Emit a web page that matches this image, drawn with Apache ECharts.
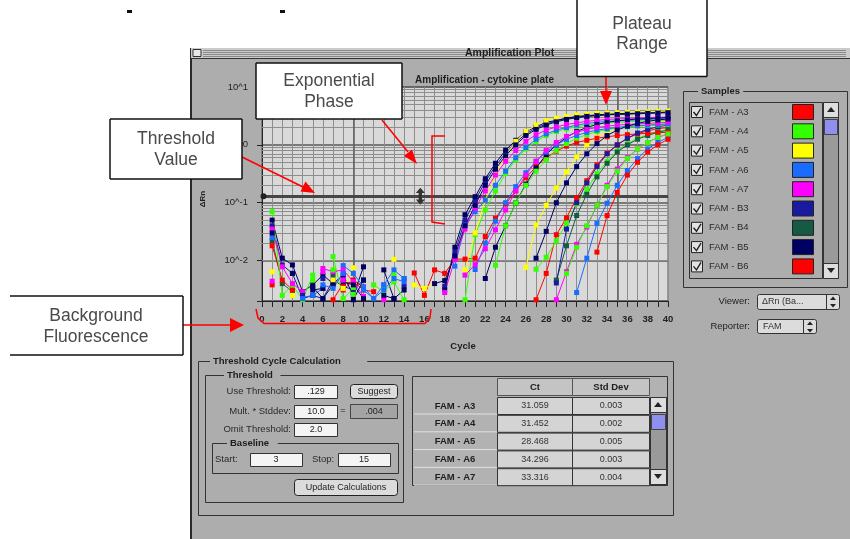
<!DOCTYPE html>
<html>
<head>
<meta charset="utf-8">
<title>Amplification Plot</title>
<script src="https://cdn.jsdelivr.net/npm/echarts@6/dist/echarts.min.js"></script>
<style>
html, body { margin: 0; padding: 0; background: #fff; }
#wrap { position: relative; width: 850px; height: 539px; overflow: hidden; }
.window { position: absolute; left: 190px; top: 48px; width: 660px; height: 491px; background: #adadad; border-left: 2px solid #2a2a2a; border-top: 1px solid #2a2a2a; }
#chart { position: absolute; left: 0; top: 0; width: 850px; height: 539px; }
</style>
</head>
<body>
<div id="wrap">
	<div class="window"></div>
	<div id="chart"></div>
</div>
<script>
const _ = null

// ΔRn per cycle (index = cycle 0..40), null = no point drawn
const fluorA3 = [_,
	0.0038, _, _, _, _, _, _, 0.0031, 0.0046, 0.0035,
	_, _, _, _, _, _, _, _, _, _,
	_, _, _, _, _, _, 0.0021, 0.006, 0.028, 0.055,
	0.12, 0.24, 0.45, 0.72, 1.0, 1.3, 1.55, 1.75, 1.9, 2.0]
const fluorA4 = [_,
	_, _, _, _, _, _, _, _, 0.0043, _,
	_, 0.0033, _, _, _, _, _, _, _, _,
	_, _, _, _, _, _, 0.0071, 0.0114, 0.022, 0.044,
	0.095, 0.17, 0.32, 0.52, 0.78, 1.05, 1.3, 1.5, 1.7, 1.85]
const fluorA5 = [_,
	_, _, _, _, _, _, 0.0036, _, _, _,
	_, _, _, _, _, _, _, _, _, _,
	_, _, _, _, _, 0.0076, 0.041, 0.09, 0.18, 0.34,
	0.62, 1.0, 1.35, 1.65, 1.9, 2.1, 2.25, 2.4, 2.5, 2.6]
const fluorA6 = [_,
	_, _, _, _, 0.0025, _, _, _, _, _,
	_, 0.0038, _, 0.0049, _, _, _, _, _, _,
	_, _, _, _, _, _, _, _, _, _,
	0.0028, 0.011, 0.044, 0.098, 0.2, 0.36, 0.58, 0.85, 1.1, 1.35]
const fluorA7 = [_,
	0.0044, _, _, _, _, _, _, 0.0049, _, 0.0022,
	_, _, _, _, _, _, _, _, _, _,
	_, _, _, _, _, _, _, _, 0.0021, 0.0064,
	0.019, 0.038, 0.09, 0.2, 0.38, 0.6, 0.85, 1.1, 1.35, 1.55]
const fluorB3 = [_,
	0.04, 0.0084, 0.006, 0.0022, 0.0025, 0.0022, 0.0046, 0.0036, 0.0031, 0.0046,
	_, _, _, 0.0036, _, _, _, 0.0036, 0.014, 0.05,
	0.11, 0.23, 0.43, 0.72, 1.1, 1.55, 1.95, 2.3, 2.6, 2.85,
	3.0, 3.15, 3.25, 3.35, 3.4, 3.45, 3.5, 3.55, 3.6, 3.65]
const fluorB4 = [_,
	0.022, 0.004, 0.0029, _, _, _, 0.0056, _, _, _,
	_, _, _, _, _, _, _, _, _, _,
	_, _, _, _, _, _, _, _, 0.0046, 0.018,
	0.06, 0.14, 0.28, 0.48, 0.75, 1.0, 1.25, 1.45, 1.65, 1.8]
const fluorB5 = [_,
	0.05, 0.011, 0.0084, 0.0029, 0.0038, 0.0056, 0.004, 0.0056, 0.0025, 0.0078,
	_, 0.0069, 0.0022, 0.0031, _, _, _, 0.0031, 0.017, 0.062,
	0.127, 0.26, 0.48, 0.81, 1.2, 1.7, 2.05, 2.45, 2.65, 2.9,
	3.1, 3.2, 3.3, 3.4, 3.45, 3.5, 3.6, 3.65, 3.7, 3.75]
const fluorB6 = [_,
	0.018, 0.0046, 0.0031, _, _, _, 0.0021, 0.004, 0.0043, 0.0031,
	0.0029, _, _, _, 0.0061, 0.0025, 0.0069, 0.006, 0.0106, 0.0106,
	0.011, 0.026, 0.054, 0.095, 0.16, 0.27, 0.42, 0.6, 0.78, 0.95,
	1.1, 1.2, 1.3, 1.38, 1.45, 1.5, 1.55, 1.58, 1.62, 1.65]
const fluorB7 = [_,
	0.07, 0.0025, 0.0038, 0.0021, 0.0056, _, 0.0117, 0.0022, 0.0033, _,
	0.0038, 0.0029, 0.0043, 0.0021, _, _, _, _, _, 0.0021,
	0.028, 0.075, 0.16, 0.32, 0.55, 0.85, 1.15, 1.45, 1.7, 1.9,
	2.05, 2.2, 2.3, 2.4, 2.45, 2.5, 2.55, 2.6, 2.6, 2.65]
const fluorC3 = [_,
	0.0064, _, 0.0025, _, _, _, 0.0046, 0.0033, 0.0075, _,
	_, _, 0.0105, _, 0.0038, 0.0033, 0.004, _, _, 0.0069,
	0.03, 0.11, 0.3, 0.65, 1.15, 1.7, 2.2, 2.6, 2.9, 3.1,
	3.3, 3.4, 3.5, 3.55, 3.6, 3.65, 3.7, 3.75, 3.8, 3.85]
const fluorC4 = [_,
	0.025, _, _, 0.0023, 0.0025, 0.0033, _, 0.0082, 0.006, 0.0035,
	0.0022, 0.0038, 0.0069, 0.0049, _, _, _, _, 0.008, 0.04,
	0.07, 0.11, 0.2, 0.35, 0.6, 0.9, 1.25, 1.55, 1.8, 2.0,
	2.2, 2.35, 2.45, 2.55, 2.6, 2.65, 2.7, 2.75, 2.8, 2.8]
const fluorC5 = [_,
	0.035, 0.0078, 0.004, 0.0029, _, 0.0073, 0.0064, 0.0069, 0.0043, 0.0024,
	_, 0.0021, _, _, _, _, _, 0.0028, 0.0105, 0.035,
	0.08, 0.16, 0.3, 0.52, 0.8, 1.15, 1.5, 1.8, 2.05, 2.25,
	2.4, 2.55, 2.65, 2.75, 2.8, 2.85, 2.9, 2.95, 3.0, 3.0]
const fluorC6 = [_,
	_, _, _, 0.0025, _, 0.0049, _, _, 0.0028, _,
	_, _, _, _, _, _, _, _, _, _,
	_, _, _, _, _, _, _, _, 0.0041, 0.035,
	0.1, 0.22, 0.42, 0.7, 1.0, 1.3, 1.6, 1.85, 2.05, 2.2]
const fluorC7 = [_,
	0.03, _, _, _, 0.0031, 0.0033, _, 0.0043, 0.0038, 0.0022,
	_, _, _, _, _, _, 0.004, 0.0045, 0.012, 0.04,
	0.09, 0.2, 0.38, 0.65, 1.0, 1.45, 1.85, 2.2, 2.5, 2.75,
	2.95, 3.1, 3.2, 3.3, 3.35, 3.4, 3.45, 3.5, 3.55, 3.6]
const fluorD3 = [_,
	_, _, 0.006, _, 0.0035, 0.0022, 0.0038, _, 0.0021, 0.0046,
	_, 0.0025, 0.0022, _, _, _, _, _, _, _,
	_, 0.0049, 0.017, 0.04, 0.1, 0.21, 0.4, 0.68, 1.0, 1.35,
	1.7, 2.0, 2.25, 2.45, 2.6, 2.7, 2.8, 2.85, 2.9, 2.95]
const fluorD4 = [_,
	_, _, _, _, _, _, _, _, _, _,
	_, _, _, _, _, _, _, _, _, _,
	_, _, _, _, _, _, _, _, _, _,
	_, _, 0.014, 0.06, 0.15, 0.3, 0.5, 0.75, 1.0, 1.25]
const fluorD5 = [_,
	_, _, _, _, 0.0046, _, 0.0069, _, 0.0026, _,
	_, _, 0.0056, _, _, _, _, _, _, _,
	_, _, 0.0083, 0.04, 0.1, 0.2, 0.35, 0.55, 0.8, 1.05,
	1.3, 1.5, 1.7, 1.85, 1.95, 2.05, 2.1, 2.15, 2.2, 2.25]
const fluorD6 = [_,
	_, _, _, 0.0022, _, 0.0038, 0.0033, 0.006, _, 0.0031,
	0.0022, 0.0031, 0.0049, 0.0043, _, _, _, _, _, _,
	0.007, 0.02, 0.048, 0.1, 0.19, 0.33, 0.52, 0.75, 1.0, 1.25,
	1.45, 1.65, 1.8, 1.9, 2.0, 2.1, 2.15, 2.2, 2.25, 2.3]
const fluorD7 = [_,
	_, _, _, _, _, 0.0064, _, 0.0046, _, _,
	_, _, _, _, _, _, _, _, _, 0.0056,
	0.0085, 0.016, 0.034, 0.075, 0.16, 0.3, 0.52, 0.8, 1.1, 1.4,
	1.65, 1.85, 2.0, 2.1, 2.2, 2.25, 2.3, 2.35, 2.4, 2.45]
const fluorE3 = [_,
	_, _, _, _, _, _, _, _, _, _,
	_, _, _, _, _, _, _, _, _, _,
	_, _, _, _, _, _, _, _, _, 0.006,
	0.017, 0.04, 0.09, 0.19, 0.35, 0.58, 0.85, 1.1, 1.35, 1.55]
const fluorE4 = [_,
	_, _, _, _, _, _, _, _, _, _,
	_, _, _, _, _, _, _, _, _, _,
	_, _, _, _, _, _, 0.011, 0.032, 0.1, 0.22,
	0.42, 0.7, 1.05, 1.45, 1.8, 2.1, 2.35, 2.55, 2.7, 2.8]

const sampleNames = ['FAM - A3', 'FAM - A4', 'FAM - A5', 'FAM - A6', 'FAM - A7', 'FAM - B3', 'FAM - B4', 'FAM - B5', 'FAM - B6',
	'FAM - B7', 'FAM - C3', 'FAM - C4', 'FAM - C5', 'FAM - C6', 'FAM - C7', 'FAM - D3', 'FAM - D4', 'FAM - D5', 'FAM - D6', 'FAM - D7', 'FAM - E3', 'FAM - E4']
const sampleColors = ['#ff0000', '#33ff00', '#ffff00', '#1a6cff', '#ff00ff', '#1a1aa0', '#175a44', '#000062', '#ff0000',
	'#33ff00', '#ffff00', '#1a6cff', '#ff00ff', '#1a1aa0', '#000062', '#000062', '#ff0000', '#33ff00', '#1a6cff', '#ff00ff', '#33ff00', '#000062']
const sampleData = [fluorA3, fluorA4, fluorA5, fluorA6, fluorA7, fluorB3, fluorB4, fluorB5, fluorB6,
	fluorB7, fluorC3, fluorC4, fluorC5, fluorC6, fluorC7, fluorD3, fluorD4, fluorD5, fluorD6, fluorD7, fluorE3, fluorE4]

const thresholdValue = 0.129
const minorGrid = [0.003, 0.004, 0.005, 0.006, 0.007, 0.008, 0.009,
	0.02, 0.03, 0.04, 0.05, 0.06, 0.07, 0.08, 0.09,
	0.2, 0.3, 0.4, 0.5, 0.6, 0.7, 0.8, 0.9,
	2, 3, 4, 5, 6, 7, 8, 9]
const darkCycles = [9, 35]

// 阈值循环表
const ctRows = ['FAM - A3', 'FAM - A4', 'FAM - A5', 'FAM - A6', 'FAM - A7']
const ctValues = ['31.059', '31.452', '28.468', '34.296', '33.316']
const stdDevValues = ['0.003', '0.002', '0.005', '0.003', '0.004']

const FONT = '"Liberation Sans", Arial, sans-serif'
const WIN = '#adadad'
const ui = []

function box(x, y, w, h, fill, stroke, z, r) {
	ui.push({
		type: 'rect', z: z || 100, silent: true,
		shape: { x: x, y: y, width: w, height: h, r: r || 0 },
		style: { fill: fill || 'transparent', stroke: stroke || null, lineWidth: 1 }
	})
}
function label(x, y, s, size, o) {
	o = o || {}
	ui.push({
		type: 'text', z: o.z || 102, silent: true, x: x, y: y, rotation: o.rotation || 0,
		style: {
			text: s, fontSize: size, fontFamily: o.family || FONT, fontWeight: o.bold ? 'bold' : 'normal',
			fill: o.color || '#1e1e1e', textAlign: o.align || 'left', align: o.align || 'left',
			textVerticalAlign: 'middle', verticalAlign: 'middle'
		}
	})
}
function poly(points, color, width, z) {
	ui.push({ type: 'polyline', z: z || 101, silent: true, shape: { points: points }, style: { stroke: color, lineWidth: width || 1, fill: null } })
}
function tri(points, color, z) {
	ui.push({ type: 'polygon', z: z || 101, silent: true, shape: { points: points }, style: { fill: color } })
}
function groupFrame(x, y, w, h, title, tx) {
	box(x, y, w, h, null, '#333')
	box(tx - 3, y - 5, title.length * 5.6 + 6, 10, WIN, null, 100)
	label(tx, y, title, 9.5, { bold: true })
}

// 窗口标题栏
box(191, 48, 659, 10, '#cbcbcb', null)
;[50, 52, 54, 56].forEach(y => poly([[203, y + 0.5], [846, y + 0.5]], '#8a8a8a', 1))
box(193, 49.5, 8, 7, '#e8e8e8', '#333')
box(458, 48, 150, 10, '#cbcbcb', null)
label(465, 53.5, 'Amplification Plot', 10.5, { bold: true })
poly([[191, 58.5], [850, 58.5]], '#333', 1)

// 图表标题 & 轴名
label(554, 80, 'Amplification - cytokine plate', 10, { bold: true, align: 'right' })
label(203, 199, 'ΔRn', 8, { bold: true, align: 'center', rotation: Math.PI / 2 })
label(463, 346, 'Cycle', 9.5, { bold: true, align: 'center' })

// Samples 面板
groupFrame(683.5, 91.5, 164, 196, 'Samples', 701)
box(689.5, 102.5, 133, 176, WIN, '#333')
sampleNames.slice(0, 9).forEach((name, i) => {
	const y = 112 + i * 19.3
	box(691.5, y - 5.5, 11, 11, '#e2e2e2', '#222')
	poly([[693.5, y], [696.5, y + 3.5], [701, y - 4]], '#222', 1.4)
	label(709, y, name, 9.5, { color: '#2a2a2a' })
	box(792.5, y - 7.5, 21, 15, sampleColors[i], '#222')
})
box(823.5, 102.5, 15, 176, '#9a9a9a', '#333')
box(823.5, 102.5, 15, 15, '#dedede', '#333')
tri([[827, 112], [835, 112], [831, 107]], '#222')
box(824.5, 119.5, 13, 15, '#8f8ff0', '#444')
box(823.5, 263.5, 15, 15, '#dedede', '#333')
tri([[827, 268], [835, 268], [831, 273]], '#222')

// Viewer / Reporter
label(750, 301, 'Viewer:', 9.5, { align: 'right' })
box(757.5, 294.5, 82, 15, '#dcdcdc', '#333', 100, 2)
label(762, 302, 'ΔRn (Ba...', 9, { color: '#333' })
poly([[826.5, 295], [826.5, 309]], '#333', 1)
tri([[830, 300], [836, 300], [833, 296.5]], '#222')
tri([[830, 304], [836, 304], [833, 307.5]], '#222')
label(750, 326, 'Reporter:', 9.5, { align: 'right' })
box(757.5, 319.5, 59, 14, '#dcdcdc', '#333', 100, 2)
label(763, 326.5, 'FAM', 9, { color: '#333' })
poly([[803.5, 320], [803.5, 333]], '#333', 1)
tri([[807, 325], [813, 325], [810, 321.5]], '#222')
tri([[807, 329], [813, 329], [810, 332.5]], '#222')

// Threshold Cycle Calculation 面板
groupFrame(198.5, 361.5, 475, 154, 'Threshold Cycle Calculation', 213)
groupFrame(205.5, 375.5, 198, 127, 'Threshold', 227)
label(291, 391, 'Use Threshold:', 9.5, { align: 'right', color: '#2a2a2a' })
box(294.5, 385.5, 43, 13, '#f4f4f4', '#333')
label(316, 392, '.129', 9, { align: 'center' })
box(350.5, 384.5, 47, 14, '#dcdcdc', '#222', 100, 3)
label(374, 391.5, 'Suggest', 9, { align: 'center' })
label(291, 411, 'Mult. * Stddev:', 9.5, { align: 'right', color: '#2a2a2a' })
box(294.5, 405.5, 43, 13, '#f4f4f4', '#333')
label(316, 412, '10.0', 9, { align: 'center' })
label(343, 411, '=', 9, { align: 'center' })
box(350.5, 404.5, 47, 14, '#a4a4a4', '#444')
label(374, 411.5, '.004', 9, { align: 'center' })
label(291, 429, 'Omit Threshold:', 9.5, { align: 'right', color: '#2a2a2a' })
box(294.5, 423.5, 43, 13, '#f4f4f4', '#333')
label(316, 430, '2.0', 9, { align: 'center' })
groupFrame(212.5, 443.5, 186, 30, 'Baseline', 230)
label(215, 459, 'Start:', 9.5, { color: '#2a2a2a' })
box(250.5, 453.5, 52, 13, '#f4f4f4', '#333')
label(276, 460, '3', 9, { align: 'center' })
label(312, 459, 'Stop:', 9.5, { color: '#2a2a2a' })
box(338.5, 453.5, 52, 13, '#f4f4f4', '#333')
label(364, 460, '15', 9, { align: 'center' })
box(294.5, 479.5, 103, 16, '#dcdcdc', '#222', 100, 3)
label(346, 487.5, 'Update Calculations', 9, { align: 'center' })

// Ct 表格
box(412.5, 376.5, 255, 109, '#b2b2b2', '#333')
box(497.5, 378.5, 75, 17, '#c4c4c4', '#555')
box(572.5, 378.5, 77, 17, '#c4c4c4', '#555')
label(535, 387, 'Ct', 9.5, { bold: true, align: 'center' })
label(611, 387, 'Std Dev', 9.5, { bold: true, align: 'center' })
ctRows.forEach((name, i) => {
	const y = 397 + i * 17.8
	poly([[414, y + 17], [497, y + 17]], '#e0e0e0', 1)
	label(455, y + 9, name, 9.5, { bold: true, align: 'center' })
	box(497.5, y + 0.5, 75, 17, '#d4d4d4', '#333')
	box(572.5, y + 0.5, 77, 17, '#d4d4d4', '#333')
	label(535, y + 9, ctValues[i], 9, { align: 'center', color: '#333' })
	label(611, y + 9, stdDevValues[i], 9, { align: 'center', color: '#333' })
})
box(650.5, 397.5, 16, 87, '#9a9a9a', '#333')
box(650.5, 397.5, 16, 15, '#dedede', '#333')
tri([[654, 407], [662, 407], [658, 402]], '#222')
box(651.5, 414.5, 14, 15, '#8f8ff0', '#444')
box(650.5, 469.5, 16, 15, '#dedede', '#333')
tri([[654, 474], [662, 474], [658, 479]], '#222')

// 红色标注：括号与箭头
const RED = '#ff0000'
poly([[445, 136], [432, 136], [432, 222], [445, 224]], RED, 1.5, 110)
poly([[256, 309], [258, 318], [264, 323.5], [425, 323.5], [430, 318], [431, 309]], RED, 1.5, 110)
poly([[242, 157], [303, 187]], RED, 1.5, 110)
tri([[315, 193], [300.5, 191.5], [305.5, 181.5]], RED, 110)
poly([[382, 120], [408, 152]], RED, 1.5, 110)
tri([[417, 164], [404, 156], [412, 149.5]], RED, 110)
poly([[606, 77], [606, 92]], RED, 1.5, 110)
tri([[606, 105], [600, 91], [612, 91]], RED, 110)
poly([[183, 325], [231, 325]], RED, 1.5, 110)
tri([[244, 325], [230, 318], [230, 332]], RED, 110)

// 说明框
function callout(x, y, w, h, lines, cx, ys, edges) {
	box(x, y, w, h, '#ffffff', null, 120)
	const e = edges || { t: 1, r: 1, b: 1, l: 1 }
	if (e.t) poly([[x, y], [x + w, y]], '#111', 1.5, 121)
	if (e.r) poly([[x + w, y], [x + w, y + h]], '#111', 1.5, 121)
	if (e.b) poly([[x, y + h], [x + w, y + h]], '#111', 1.5, 121)
	if (e.l) poly([[x, y], [x, y + h]], '#111', 1.5, 121)
	lines.forEach((t, i) => label(cx, ys[i], t, 17.5, { align: 'center', color: '#4a4a4a', z: 122 }))
}
callout(256, 63, 146, 56, ['Exponential', 'Phase'], 329, [81, 102])
callout(110, 119, 132, 60, ['Threshold', 'Value'], 176, [139, 160])
callout(577, 0, 130, 76.5, ['Plateau', 'Range'], 642, [24, 44], { t: 0, r: 1, b: 1, l: 1 })
callout(10, 296, 173, 59, ['Background', 'Fluorescence'], 96, [316, 337], { t: 1, r: 1, b: 1, l: 0 })

// 顶部截断文字残迹
box(127, 10, 5, 3, '#111', null, 100)
box(280, 10, 5, 3, '#111', null, 100)

const series = sampleData.map((vals, i) => ({
	name: sampleNames[i],
	type: 'line',
	data: vals.map((v, c) => [c, v == null ? '-' : v]),
	symbol: 'rect',
	symbolSize: 5,
	showSymbol: true,
	showAllSymbol: true,
	z: 3,
	silent: true,
	itemStyle: { color: sampleColors[i] },
	lineStyle: { width: 1, color: sampleColors[i] }
}))

// 次网格线
series.unshift({
	type: 'line',
	data: [],
	z: 1,
	markLine: {
		z: 1,
		silent: true,
		symbol: 'none',
		label: { show: false },
		lineStyle: { color: '#8e8e8e', width: 1, type: 'solid' },
		data: minorGrid.map(v => ({ yAxis: v })).concat(darkCycles.map(c => ({ xAxis: c, lineStyle: { color: '#5e5e5e', width: 1.5, type: 'solid' } })))
	}
})
// 阈值线
series.push({
	type: 'line',
	data: [],
	z: 2,
	markLine: {
		z: 2,
		silent: true,
		symbol: 'none',
		label: { show: false },
		lineStyle: { color: '#464646', width: 3, type: 'solid' },
		data: [{ yAxis: thresholdValue }]
	},
	markPoint: {
		z: 4,
		silent: true,
		label: { show: false },
		data: [
			{ coord: [15.6, thresholdValue], symbol: 'path://M4,0 L8,5 L5.5,5 L5.5,11 L8,11 L4,16 L0,11 L2.5,11 L2.5,5 L0,5 Z', symbolSize: [9, 17], itemStyle: { color: '#333' } },
			{ coord: [0.15, thresholdValue], symbol: 'circle', symbolSize: 6, itemStyle: { color: '#222' } }
		]
	}
})

const chart = echarts.init(document.getElementById('chart'), null, { renderer: 'canvas' })
chart.setOption({
	animation: false,
	backgroundColor: 'transparent',
	grid: {
		left: 262,
		top: 87,
		width: 406,
		height: 214,
		show: true,
		backgroundColor: '#d9d9d9',
		borderColor: '#555',
		borderWidth: 1
	},
	xAxis: {
		type: 'value',
		min: 0,
		max: 40,
		interval: 1,
		axisLine: { show: true, lineStyle: { color: '#222' } },
		axisTick: { show: true, length: 6, lineStyle: { color: '#222' } },
		axisLabel: {
			margin: 13,
			fontSize: 9.5,
			fontWeight: 'bold',
			fontFamily: FONT,
			color: '#222',
			formatter: v => (v % 2 === 0 ? String(v) : '')
		},
		splitLine: { show: true, lineStyle: { color: '#8e8e8e', width: 1 } }
	},
	yAxis: {
		type: 'log',
		logBase: 10,
		min: 0.002,
		max: 10,
		axisLine: { show: true, lineStyle: { color: '#222' } },
		axisTick: { show: true, length: 5, lineStyle: { color: '#222' } },
		axisLabel: {
			margin: 14,
			fontSize: 9.5,
			fontFamily: FONT,
			color: '#222',
			formatter: v => {
				const e = Math.log10(v)
				const r = Math.round(e)
				return Math.abs(e - r) < 1e-6 ? '10^' + r : ''
			}
		},
		splitLine: { show: true, lineStyle: { color: '#5a5a5a', width: 1.5 } }
	},
	series: series,
	graphic: { elements: ui }
})
</script>
</body>
</html>
